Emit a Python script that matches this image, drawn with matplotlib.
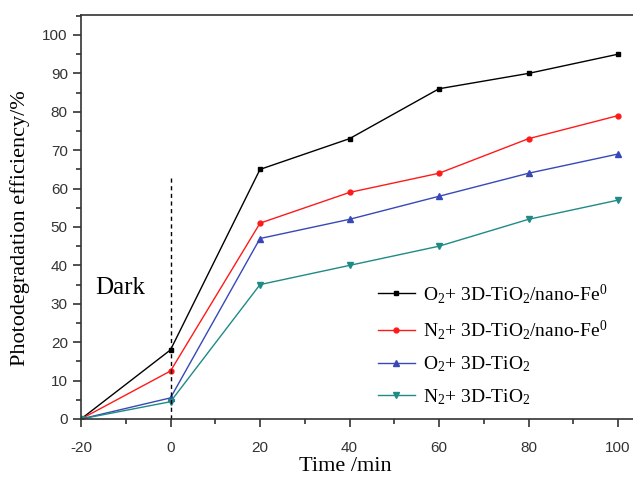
import matplotlib
matplotlib.use("Agg")
import matplotlib.pyplot as plt
from matplotlib.ticker import MultipleLocator

time = [-20, 0, 20, 40, 60, 80, 100]
o2_fe = [0, 18, 65, 73, 86, 90, 95]
n2_fe = [0, 12.5, 51, 59, 64, 73, 79]
o2_ti = [0, 5.5, 47, 52, 58, 64, 69]
n2_ti = [0, 4.5, 35, 40, 45, 52, 57]
labels = [r'O$_2$+ 3D-TiO$_2$/nano-Fe$^0$',
          r'N$_2$+ 3D-TiO$_2$/nano-Fe$^0$',
          r'O$_2$+ 3D-TiO$_2$',
          r'N$_2$+ 3D-TiO$_2$']

plt.rcParams['mathtext.fontset'] = 'custom'
plt.rcParams['mathtext.rm'] = 'Liberation Serif'
plt.rcParams['mathtext.it'] = 'Liberation Serif'
plt.rcParams['axes.unicode_minus'] = False

fig = plt.figure(figsize=(6.33, 4.78), dpi=100)
W, H = 633, 478
x0, x1 = 81, 640
y0, y1 = 419, 15
ax = fig.add_axes([x0 / W, 1 - y0 / H, (x1 - x0) / W, (y0 - y1) / H])

px_per_unit = (619 - 82) / 120.0
ax.set_xlim(-20, -20 + (x1 - x0) / px_per_unit)
ax.set_ylim(0, (y0 - y1) / 3.84)

series = [
    (o2_fe, 'black', 's', 3.5),
    (n2_fe, '#ff1a1a', 'o', 3.5),
    (o2_ti, '#3848b8', '^', 4),
    (n2_ti, '#1f8a86', 'v', 4),
]
for (vals, c, m, ms), lab in zip(series, labels):
    ax.plot(time, vals, color=c, marker=m, markersize=ms, lw=1.0, label=lab)

ax.plot([0, 0], [0, 63], ls=(0, (3, 2.5)), color='black', lw=1.0)
ax.text(-16.8, 34, 'Dark', family='Liberation Serif', fontsize=18, va='center')

ax.spines['right'].set_visible(False)
for s in ['left', 'bottom', 'top']:
    ax.spines[s].set_linewidth(1.2)
    ax.spines[s].set_color('#333333')

ax.set_xticks([-20, 0, 20, 40, 60, 80, 100])
ax.set_yticks(range(0, 101, 10))
ax.xaxis.set_minor_locator(MultipleLocator(10))
ax.yaxis.set_minor_locator(MultipleLocator(5))
ax.tick_params(which='major', direction='out', length=6, width=1.2, color='#333333',
               labelsize=11, labelcolor='#333333')
ax.tick_params(which='minor', direction='out', length=3.5, width=1.2, color='#333333')
for lab in ax.get_xticklabels() + ax.get_yticklabels():
    lab.set_family('Liberation Sans')
ax.tick_params(axis='x', pad=10)

ax.set_xlabel('Time /min', family='Liberation Serif', fontsize=16, va='baseline')
ax.xaxis.set_label_coords((345 - x0) / (x1 - x0), -(471 - y0) / (y0 - y1))
ax.set_ylabel('Photodegradation efficiency/%', family='Liberation Serif', fontsize=16, va='center')
ax.yaxis.set_label_coords(-(x0 - 20) / (x1 - x0), (419 - 228) / (y0 - y1))

leg = ax.legend(loc='upper left', bbox_to_anchor=((368 - x0) / (x1 - x0), (419 - 272) / (y0 - y1)),
                frameon=False, prop={'family': 'Liberation Serif', 'size': 14},
                handlelength=1.9, handletextpad=0.45, labelspacing=0.65, borderpad=0)

fig.savefig('out.png', dpi=100)
